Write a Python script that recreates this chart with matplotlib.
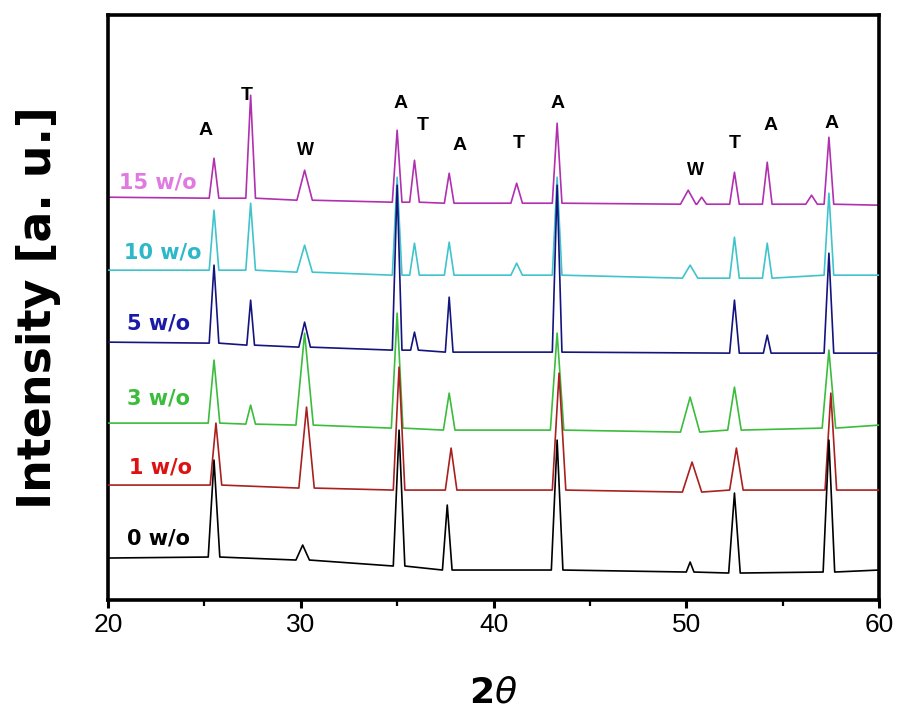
import matplotlib

matplotlib.use("Agg")

import matplotlib.pyplot as plt
import numpy as np

# --- data (intensity in arbitrary units) ---
series_names = ["15 w/o", "10 w/o", "5 w/o", "3 w/o", "1 w/o", "0 w/o"]

# baseline at 2theta = 20 and 60
base_start = [403, 330, 258, 177, 115, 42]
base_end = [395, 325, 247, 175, 110, 30]

# peaks: position, apex, local baseline, half width
pk_pos = [
    [25.5, 27.4, 30.2, 35.0, 35.9, 37.7, 41.2, 43.3, 50.1, 50.8, 52.5, 54.2, 56.5, 57.4],
    [25.5, 27.4, 30.2, 35.0, 35.9, 37.7, 41.2, 43.3, 50.2, 52.5, 54.2, 57.4],
    [25.5, 27.4, 30.2, 35.0, 35.9, 37.7, 43.3, 52.5, 54.2, 57.4],
    [25.5, 27.4, 30.2, 35.0, 37.7, 43.3, 50.2, 52.5, 57.4],
    [25.6, 30.3, 35.1, 37.8, 43.4, 50.3, 52.6, 57.5],
    [25.5, 30.1, 35.1, 37.6, 43.3, 50.2, 52.5, 57.4],
]
pk_top = [
    [442, 505, 430, 470, 440, 427, 417, 477, 410, 403, 428, 438, 405, 463],
    [390, 397, 355, 423, 357, 358, 337, 423, 335, 363, 357, 407],
    [335, 300, 278, 415, 268, 303, 415, 300, 265, 347],
    [240, 195, 267, 287, 207, 267, 203, 213, 250],
    [177, 193, 233, 152, 227, 138, 152, 207],
    [140, 55, 170, 95, 160, 38, 107, 160],
]
pk_base = [
    [402, 402, 400, 398, 398, 397, 397, 397, 396, 396, 396, 396, 396, 396],
    [330, 330, 328, 325, 325, 325, 325, 325, 322, 322, 322, 325],
    [257, 255, 253, 250, 250, 248, 248, 247, 247, 247],
    [177, 176, 175, 172, 170, 170, 168, 170, 172],
    [115, 112, 110, 110, 110, 108, 110, 110],
    [43, 40, 34, 30, 30, 28, 27, 28],
]
pk_wid = [
    [.25, .25, .4, .25, .25, .25, .3, .25, .4, .25, .25, .25, .3, .25],
    [.25, .25, .4, .25, .25, .25, .3, .25, .4, .25, .25, .25],
    [.25, .2, .3, .25, .2, .2, .25, .25, .2, .25],
    [.3, .25, .45, .3, .3, .35, .5, .35, .35],
    [.3, .4, .3, .3, .35, .5, .35, .3],
    [.3, .35, .3, .25, .3, .2, .3, .3],
]

line_colors = ["#b030b0", "#40c4cc", "#14147e", "#3cbc3c", "#a82020", "black"]
label_colors = ["#e07ae0", "#2cb8c8", "#1a1aa8", "#3cbc3c", "#dd1111", "black"]
label_x = [20.57, 20.83, 20.99, 20.99, 21.1, 20.99]
label_y = [418, 348, 277, 202, 133, 62]

# phase markers above the top pattern
ann_txt = ["A", "T", "W", "A", "T", "A", "T", "A", "W", "T", "A", "A"]
ann_x = [25.08, 27.2, 30.27, 35.2, 36.34, 38.26, 41.32, 43.34, 50.5, 52.52, 54.39, 57.55]
ann_y = [470, 505, 450, 497, 475, 455, 457, 497, 430, 457, 475, 477]

fig = plt.figure(figsize=(9, 7.28), dpi=100)
ax = fig.add_axes([0.12, 0.1758, 0.8567, 0.8032])

for k, name in enumerate(series_names):
    xs = [20.0]
    ys = [base_start[k]]
    for p, t, b, w in zip(pk_pos[k], pk_top[k], pk_base[k], pk_wid[k]):
        xs += [p - w, p, p + w]
        ys += [b, t, b]
    xs.append(60.0)
    ys.append(base_end[k])
    ax.plot(xs, ys, color=line_colors[k], lw=1.2, zorder=2 + k)
    ax.text(label_x[k], label_y[k], name, color=label_colors[k],
            fontsize=15, fontweight="bold", ha="left", va="center",
            family="DejaVu Sans", zorder=10)

for t, x, y in zip(ann_txt, ann_x, ann_y):
    ax.text(x, y, t, fontsize=13 if t == "W" else 14, ha="center", va="center",
            fontweight="bold", family=["Liberation Sans", "DejaVu Sans"])

ax.set_xlim(20, 60)
ax.set_ylim(0, 585)
ax.set_xticks(np.arange(20, 61, 10))
ax.set_xticks(np.arange(25, 60, 10), minor=True)
ax.set_yticks([])
for s in ax.spines.values():
    s.set_linewidth(2.6)
ax.tick_params(axis="x", which="major", direction="out", length=6, width=2.2, pad=3)
ax.tick_params(axis="x", which="minor", direction="out", length=4, width=1.6)
for lab in ax.get_xticklabels():
    lab.set_family(["Liberation Sans Narrow", "Liberation Sans", "DejaVu Sans"])
    lab.set_fontsize(19)

ax.set_ylabel("Intensity [a. u.]", fontsize=33, fontweight="bold",
              family="DejaVu Sans", labelpad=34)
ax.set_xlabel(r"$\mathbf{2}\theta$", fontsize=26, labelpad=28)

fig.savefig("out.png", dpi=100)
